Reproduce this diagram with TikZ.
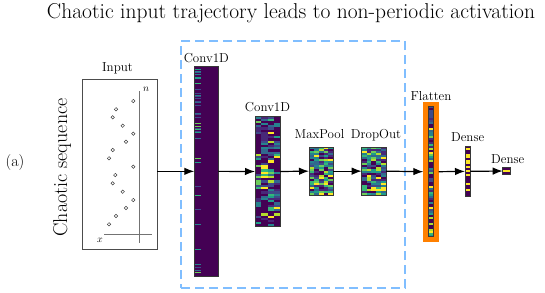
\documentclass[tikz,border=0pt]{standalone}
\usetikzlibrary{arrows.meta}
\definecolor{v0}{RGB}{68,1,84}
\definecolor{v1}{RGB}{72,40,120}
\definecolor{v2}{RGB}{62,74,137}
\definecolor{v3}{RGB}{49,104,142}
\definecolor{v4}{RGB}{38,130,142}
\definecolor{v5}{RGB}{31,158,137}
\definecolor{v6}{RGB}{53,183,121}
\definecolor{v7}{RGB}{109,205,89}
\definecolor{v8}{RGB}{180,222,44}
\definecolor{v9}{RGB}{253,231,37}
\definecolor{dashblue}{RGB}{128,190,255}
\definecolor{flatorange}{RGB}{255,128,0}
\definecolor{edgegray}{RGB}{55,55,55}
\tikzset{
  layerbox/.style={draw=edgegray, line width=0.8pt, inner sep=0pt, outer sep=0pt},
  lbl/.style={anchor=base, inner sep=0pt, font=\fontsize{13}{15}\selectfont},
  arr/.style={line width=1.2pt, -{Latex[length=10pt,width=7.5pt]}},
  dashbox/.style={draw=dashblue, line width=1.8pt, dash pattern=on 9pt off 5pt, inner sep=0pt},
  dot/.style={draw=black!75, line width=0.5pt, fill=white},
}
\begin{document}
\begin{tikzpicture}[x=1pt,y=-1pt]
\useasboundingbox (0,0) rectangle (545,292);
\pgfmathsetseed{11}

% title
\node[anchor=base, inner sep=0pt, font=\fontsize{21.5}{26}\selectfont] (title) at (291,18)
  {Chaotic input trajectory leads to non-periodic activation};

% (a) and rotated label
\node[inner sep=0pt, font=\fontsize{16}{18}\selectfont] (alabel) at (15,163) {(a)};
\node[inner sep=0pt, rotate=90, font=\fontsize{20}{22}\selectfont] (seq) at (62,167.5) {Chaotic sequence};

% input box
\node[draw=black!70, line width=0.9pt, minimum width=75pt, minimum height=170pt, inner sep=0pt, outer sep=0pt] (inp) at (119.5,164) {};
\node[lbl] (linp) at (117.5,71.5) {Input};
\draw[black!55, line width=0.7pt] (139,91) coordinate (ytop) -- (139,243) coordinate (ybot);
\draw[black!55, line width=0.7pt] (104,234) coordinate (xl) -- (152,234) coordinate (xr);
\node[inner sep=0pt, font=\fontsize{10}{11}\selectfont] (nlab) at (146,89) {$n$};
\node[inner sep=0pt, font=\fontsize{10}{11}\selectfont] (xlab) at (100,240.5) {$x$};
\foreach \px/\py in {133.3/101,116/109.3,112.7/117.3,122.7/125.7,133.3/133.7,126/141.7,112.7/150,109/158.3,133.3/166.7,115.3/175,112.7/183.3,122.7/191.7,133.3/200,126/208,116/216,109/224.3}
  \draw[dot] (\px,\py) circle (1.7pt);

% dashed group
\node[dashbox, minimum width=224pt, minimum height=247pt] (grp) at (293,164.5) {};

% Conv1D (large)
\fill[v0] (194.3,66.7) rectangle (218.3,276);
\foreach \i in {0,...,138} {
  \pgfmathsetmacro\p{rnd}
  \pgfmathsetmacro\c{int(min(9,2+floor(7*rnd^1.8)))}
  \ifnum\i<45
    \ifdim\p pt<0.4pt \fill[v\c] (195,67.5+\i*1.5) rectangle ++(5.5,1.0); \fi
  \else
    \ifdim\p pt<0.12pt \fill[v\c] (195,67.5+\i*1.5) rectangle ++(5.5,1.0); \fi
  \fi
}
\node[layerbox, minimum width=24pt, minimum height=209.3pt] (c1) at (206.3,171.35) {};
\node[lbl] (lc1) at (206.3,62.3) {Conv1D};

% Conv1D (second)
\foreach \i in {0,...,49} {
  \foreach \j in {0,...,3} {
    \pgfmathsetmacro\c{int(min(9,floor(10*rnd^2.6)))}
    \fill[v\c] (255+\j*6.25,116.3+\i*2.208) rectangle ++(6.3,2.25);
  }
}
\node[layerbox, minimum width=25pt, minimum height=110.4pt] (c2) at (267.5,171.5) {};
\node[lbl] (lc2) at (267.5,111) {Conv1D};

% MaxPool
\foreach \i in {0,...,23} {
  \foreach \j in {0,...,4} {
    \pgfmathsetmacro\c{int(min(9,floor(10*rnd^1.25)))}
    \fill[v\c] (309+\j*4.86,147.3+\i*1.99) rectangle ++(4.9,2.03);
  }
}
\node[layerbox, minimum width=24.3pt, minimum height=47.7pt] (mp) at (321.15,171.15) {};
\node[lbl] (lmp) at (319.5,138.5) {MaxPool};

% DropOut
\foreach \i in {0,...,23} {
  \foreach \j in {0,...,4} {
    \pgfmathsetmacro\c{int(min(9,floor(10*rnd^1.25)))}
    \fill[v\c] (361.7+\j*4.86,147.3+\i*1.99) rectangle ++(4.9,2.03);
  }
}
\node[layerbox, minimum width=24.3pt, minimum height=47.7pt] (do) at (373.85,171.15) {};
\node[lbl] (ldo) at (376,138.5) {DropOut};

% Flatten
\node[fill=flatorange, minimum width=15.4pt, minimum height=140pt, inner sep=0pt, outer sep=0pt] (fl) at (431,171.7) {};
\foreach \i in {0,...,64} {
  \pgfmathsetmacro\c{int(min(9,floor(10*rnd^1.6)))}
  \fill[v\c] (428.3,106+\i*2.01) rectangle ++(5,2.05);
}
\node[layerbox, line width=0.6pt, minimum width=5pt, minimum height=130.7pt] (flin) at (430.8,171.35) {};
\node[lbl] (lfl) at (431,100) {Flatten};

% Dense 1
\fill[v0] (465,146) rectangle (470.3,196.7);
\foreach \i in {0,...,24} {
  \pgfmathsetmacro\p{rnd}
  \ifdim\p pt<0.38pt \fill[v9] (465,146+\i*2.028) rectangle ++(5.3,2.06); \fi
}
\node[layerbox, line width=0.6pt, minimum width=5.3pt, minimum height=50.7pt] (d1) at (467.65,171.35) {};
\node[lbl] (ld1) at (467.65,141.7) {Dense};

% Dense 2
\fill[v0] (502.7,167.7) rectangle (510.3,174.3);
\fill[v9] (502.9,169.8) rectangle (510.1,172.4);
\node[layerbox, line width=0.6pt, minimum width=7.6pt, minimum height=6.6pt] (d2) at (506.5,171) {};
\node[lbl] (ld2) at (507.7,163.3) {Dense};

% arrows
\draw[arr] (inp.east |- c1.west) -- (c1.west);
\draw[arr] (c1.east) -- (c2.west);
\draw[arr] (c2.east) -- (mp.west);
\draw[arr] (mp.east) -- (do.west);
\draw[arr] (do.east) -- (fl.west);
\draw[arr] (fl.east) -- (d1.west);
\draw[arr] (d1.east) -- (d2.west);
\end{tikzpicture}
\end{document}
